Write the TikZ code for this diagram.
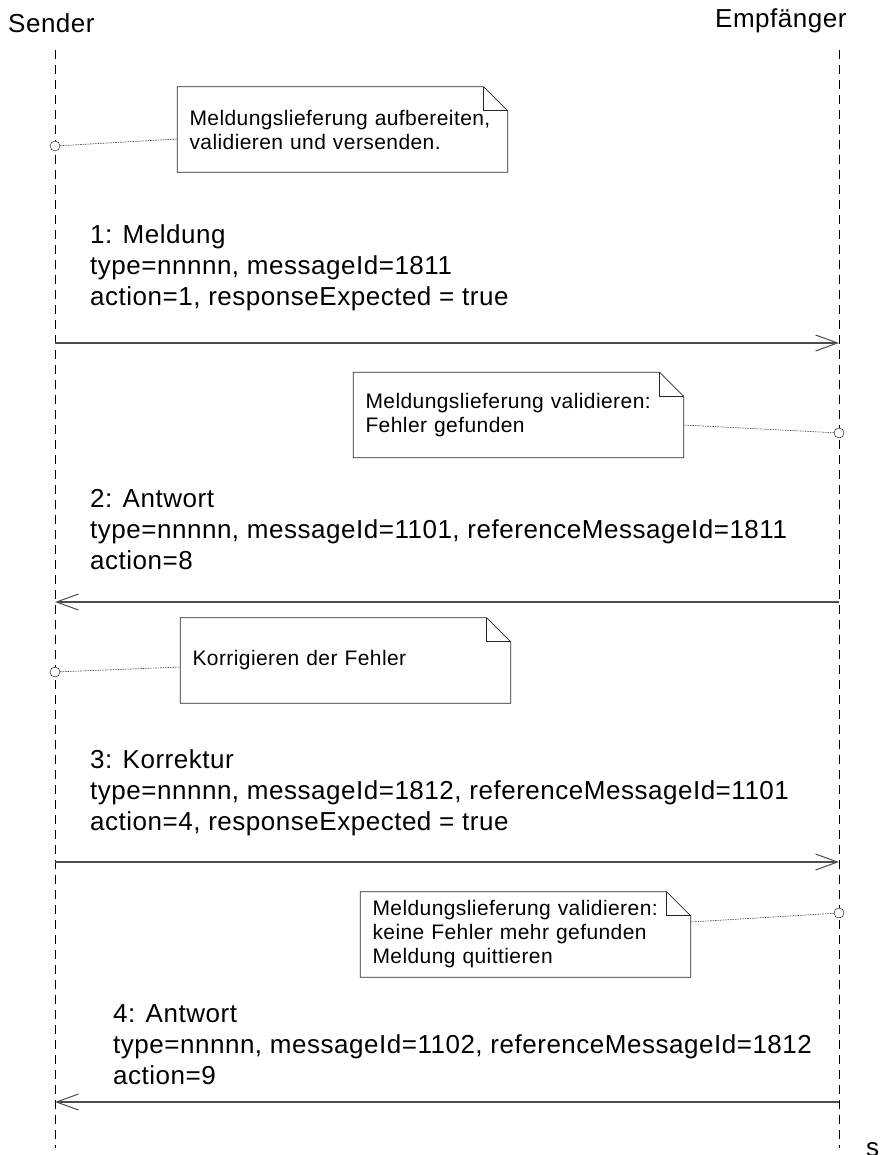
\documentclass[tikz,border=0pt]{standalone}
\usepackage{fontspec}
\setmainfont[LetterSpace = 2]{Liberation Sans}
\usetikzlibrary{arrows.meta}

\tikzset{
    lifeline/.style = {draw, dash pattern = on 9pt off 6pt, line width = 0.8pt},
    msg/.style = {draw = black!70, line width = 1.1pt, -{Straight Barb[length = 22pt, width = 16pt, line width = 1pt]}},
    msgtext/.style = {anchor = west, align = left, inner sep = 0pt, font = \fontsize{26}{31}\selectfont},
    label/.style = {anchor = base west, inner sep = 0pt, font = \fontsize{26}{31}\selectfont},
    note/.style = {minimum width = 330pt, minimum height = 85pt, inner xsep = 12pt, text width = 306pt, align = left, font = \fontsize{21}{24}\selectfont},
    notebox/.style = {draw = black!85, line width = 0.8pt},
    anchordot/.style = {circle, draw, fill = white, minimum size = 10pt, inner sep = 0pt},
    link/.style = {draw = black!75, dash pattern = on 1.5pt off 1pt, line width = 0.6pt}
}

% note outline with folded corner
\newcommand\foldnote[1]{
    \draw[notebox] (#1.south west) -- (#1.north west) -- ([xshift = -24pt]#1.north east)
        -- ([yshift = -24pt]#1.north east) -- (#1.south east) -- cycle;
    \draw[notebox] ([xshift = -24pt]#1.north east) |- ([yshift = -24pt]#1.north east);
}

\begin{document}
\begin{tikzpicture}[x = 1pt, y = -1pt]
    \useasboundingbox (0, 0) rectangle (880, 1155);

    % lifelines
    \node[label] (sender) at (8, 33) {Sender};
    \node[label] (empf) at (715, 28) {Empfänger};
    \coordinate (stop) at (55, 50);
    \coordinate (sbot) at (55, 1148);
    \coordinate (etop) at (839, 50);
    \coordinate (ebot) at (839, 1148);
    \draw[lifeline] (stop) -- (sbot);
    \draw[lifeline] (etop) -- (ebot);

    % message ends
    \foreach \y [count = \i] in {343, 602, 862, 1102} {
        \coordinate (s\i) at (55, \y);
        \coordinate (e\i) at (839, \y);
    }

    % notes
    \node[note] (n1) at (342.5, 129.5) {Meldungslieferung aufbereiten,\\validieren und versenden.};
    \node[note] (n2) at (518.5, 415) {Meldungslieferung validieren:\\Fehler gefunden};
    \node[note] (n3) at (345.5, 660.5) {Korrigieren der Fehler};
    \node[note] (n4) at (525.5, 934.5) {Meldungslieferung validieren:\\keine Fehler mehr gefunden\\Meldung quittieren};
    \foldnote{n1}
    \foldnote{n2}
    \foldnote{n3}
    \foldnote{n4}

    \node[anchordot] (c1) at (55, 146) {};
    \node[anchordot] (c2) at (839, 433) {};
    \node[anchordot] (c3) at (55, 672) {};
    \node[anchordot] (c4) at (839, 913) {};
    \draw[link] (c1) -- ([yshift = -9.5pt]n1.west);
    \draw[link] (c2) -- ([yshift = -10pt]n2.east);
    \draw[link] (c3) -- ([yshift = -6.5pt]n3.west);
    \draw[link] (c4) -- ([yshift = 12.5pt]n4.east);

    % messages
    \node[msgtext] (m1) at (90, 268) {1: Meldung\\type=nnnnn, messageId=1811\\action=1, responseExpected = true};
    \node[msgtext] (m2) at (90, 530) {2: Antwort\\type=nnnnn, messageId=1101, referenceMessageId=1811\\action=8};
    \node[msgtext] (m3) at (90, 793) {3: Korrektur\\type=nnnnn, messageId=1812, referenceMessageId=1101\\action=4, responseExpected = true};
    \node[msgtext] (m4) at (113, 1045) {4: Antwort\\type=nnnnn, messageId=1102, referenceMessageId=1812\\action=9};

    \draw[msg] (s1) -- (e1);
    \draw[msg] (e2) -- (s2);
    \draw[msg] (s3) -- (e3);
    \draw[msg] (e4) -- (s4);

    \node[label] (cut) at (866, 1156) {s};
\end{tikzpicture}
\end{document}
